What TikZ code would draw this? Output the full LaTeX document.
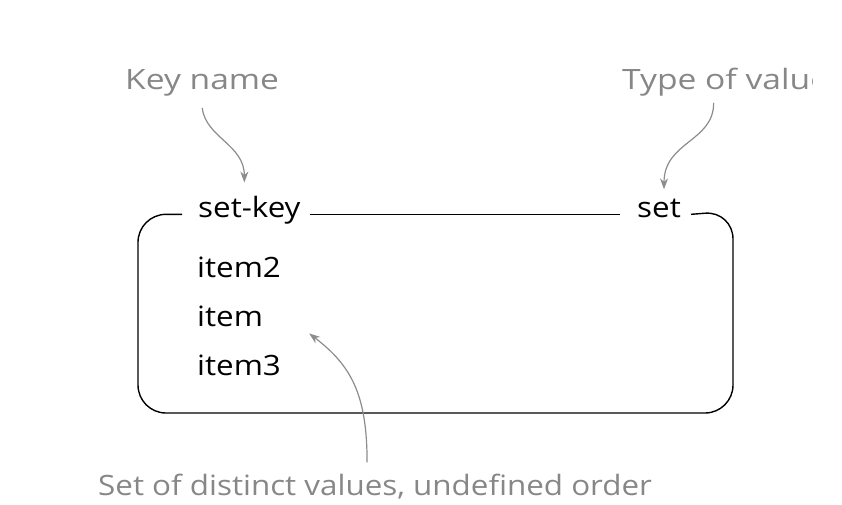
\documentclass[tikz,border=0pt]{standalone}
\usepackage{fontspec}
\setmainfont{Open Sans}[FakeStretch=1.12]
\newfontfamily\widesans{Open Sans}[FakeStretch=1.2]
\usetikzlibrary{arrows.meta}

\begin{document}
\begin{tikzpicture}[x=1pt,y=-1pt]
        \tikzstyle{every node}=[inner sep=0pt]
        \tikzstyle{entry}=[anchor=base west, font=\fontsize{28}{32}\selectfont]
        \tikzstyle{annot}=[anchor=base west, text=black!47, font=\fontsize{28}{32}\selectfont]
        \tikzstyle{top annot}=[annot, font=\fontsize{28}{32}\widesans]
        \tikzstyle{annot arrow}=[draw=black!45, line width=1.2pt, -{Stealth[length=11pt,width=8pt]}]
        \tikzstyle{frame}=[draw=black, line width=1.4pt, rounded corners=28pt]

        \useasboundingbox (0,0) rectangle (842,504);

        % Key and type on the top edge of the box
        \node[entry] (key) at (198,217) {set-key};
        \node[entry] (type) at (637,217) {set};

        % Members of the set
        \foreach \name / \y in {item2/277, item/326, item3/375}
            \node[entry] (\name) at (197,\y) {\name};

        % The box
        \draw[frame] ([xshift=-16pt]key.mid west) -| (138,413) -| (733,211)
            -- ([xshift=10pt]type.mid east);
        \draw[frame] ([xshift=9pt]key.mid east) -- ([xshift=-17pt]type.mid west);

        % Annotations
        \node[top annot] (keyname) at (125,89) {Key name};
        \begin{scope}
            \clip (0,0) rectangle (812,504);
            \node[top annot] (typename) at (622,89) {Type of value};
        \end{scope}
        \node[annot] (desc) at (98,495) {Set of distinct values, undefined order};

        % Point the annotations at what they describe
        \draw[annot arrow] ([yshift=-12pt]keyname.south)
            .. controls +(4,30) and +(0,-38) .. ([xshift=-5pt,yshift=13pt]key.north);
        \draw[annot arrow] ([xshift=-12pt,yshift=-7pt]typename.south)
            .. controls +(0,39) and +(0,-48) .. ([xshift=5pt,yshift=9pt]type.north);
        \draw[annot arrow] ([xshift=-8pt,yshift=11pt]desc.north)
            .. controls +(0,-68) and +(42,32) .. ([xshift=46pt,yshift=-7pt]item.south east);
\end{tikzpicture}
\end{document}
